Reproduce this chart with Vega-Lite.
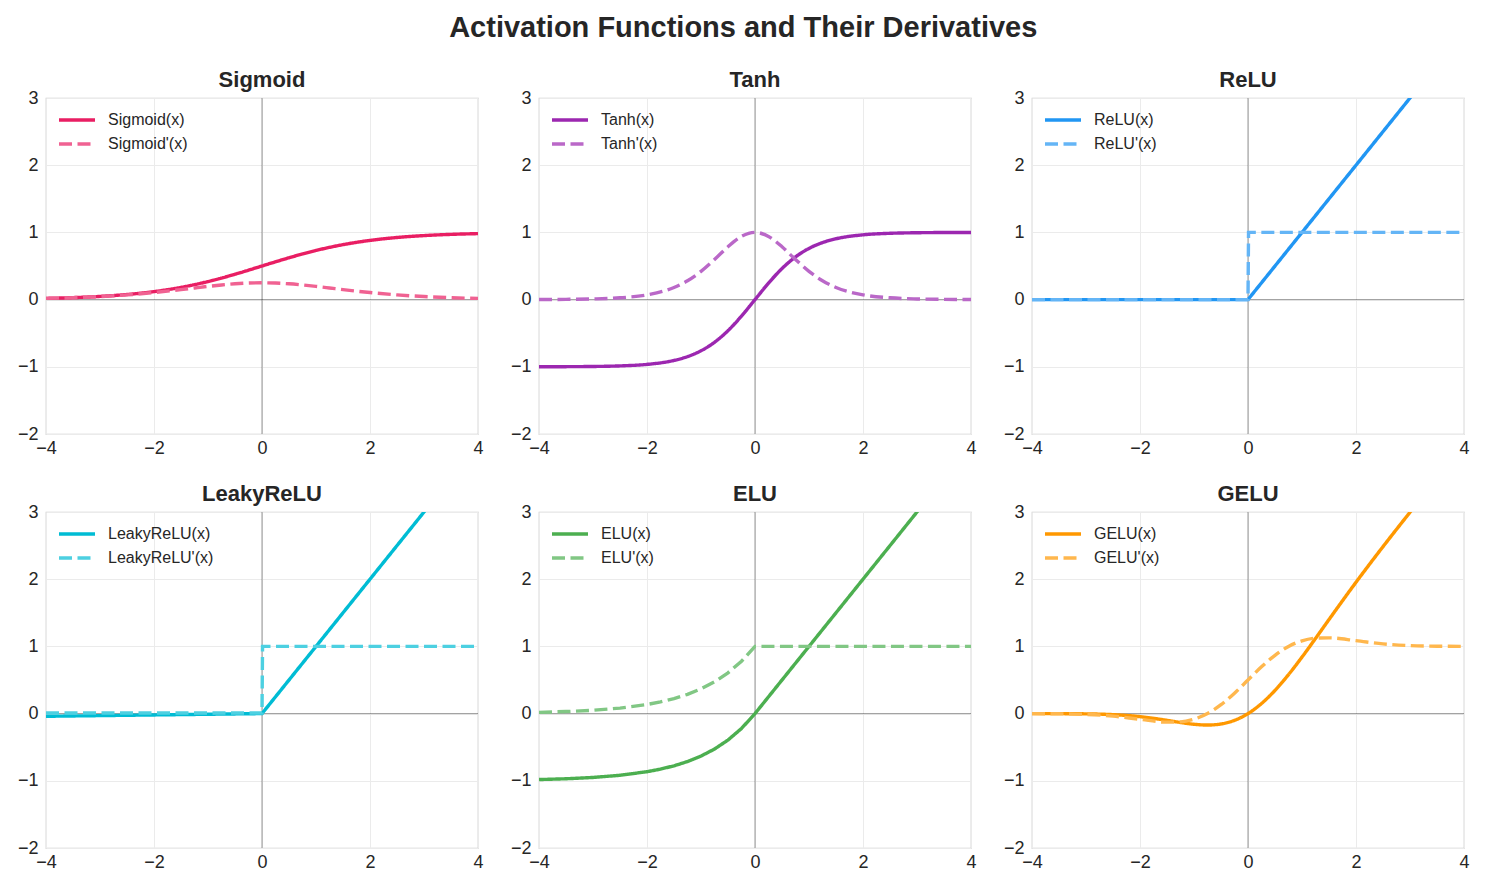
{
  "$schema": "https://vega.github.io/schema/vega-lite/v6.json",
  "padding": {"left": 16, "top": 14, "right": 5, "bottom": 5},
  "title": {"text": "Activation Functions and Their Derivatives", "fontSize": 29, "fontWeight": "bold", "anchor": "middle", "color": "#262626", "offset": 25},
  "datasets": {
    "sigmoid": [
      {"x": -4, "y": 0.018, "s": "Sigmoid(x)"}, {"x": -3.5, "y": 0.0293, "s": "Sigmoid(x)"}, {"x": -3, "y": 0.0474, "s": "Sigmoid(x)"}, {"x": -2.5, "y": 0.0759, "s": "Sigmoid(x)"}, {"x": -2, "y": 0.1192, "s": "Sigmoid(x)"}, {"x": -1.5, "y": 0.1824, "s": "Sigmoid(x)"}, {"x": -1.25, "y": 0.2227, "s": "Sigmoid(x)"}, {"x": -1, "y": 0.2689, "s": "Sigmoid(x)"}, {"x": -0.75, "y": 0.3208, "s": "Sigmoid(x)"}, {"x": -0.5, "y": 0.3775, "s": "Sigmoid(x)"}, {"x": -0.25, "y": 0.4378, "s": "Sigmoid(x)"}, {"x": 0, "y": 0.5, "s": "Sigmoid(x)"}, {"x": 0.25, "y": 0.5622, "s": "Sigmoid(x)"}, {"x": 0.5, "y": 0.6225, "s": "Sigmoid(x)"}, {"x": 0.75, "y": 0.6792, "s": "Sigmoid(x)"}, {"x": 1, "y": 0.7311, "s": "Sigmoid(x)"}, {"x": 1.25, "y": 0.7773, "s": "Sigmoid(x)"}, {"x": 1.5, "y": 0.8176, "s": "Sigmoid(x)"}, {"x": 2, "y": 0.8808, "s": "Sigmoid(x)"}, {"x": 2.5, "y": 0.9241, "s": "Sigmoid(x)"}, {"x": 3, "y": 0.9526, "s": "Sigmoid(x)"}, {"x": 3.5, "y": 0.9707, "s": "Sigmoid(x)"}, {"x": 4, "y": 0.982, "s": "Sigmoid(x)"},
      {"x": -4, "y": 0.0177, "s": "Sigmoid'(x)"}, {"x": -3.5, "y": 0.0285, "s": "Sigmoid'(x)"}, {"x": -3, "y": 0.0452, "s": "Sigmoid'(x)"}, {"x": -2.5, "y": 0.0701, "s": "Sigmoid'(x)"}, {"x": -2, "y": 0.105, "s": "Sigmoid'(x)"}, {"x": -1.5, "y": 0.1491, "s": "Sigmoid'(x)"}, {"x": -1.25, "y": 0.1731, "s": "Sigmoid'(x)"}, {"x": -1, "y": 0.1966, "s": "Sigmoid'(x)"}, {"x": -0.75, "y": 0.2179, "s": "Sigmoid'(x)"}, {"x": -0.5, "y": 0.235, "s": "Sigmoid'(x)"}, {"x": -0.25, "y": 0.2461, "s": "Sigmoid'(x)"}, {"x": 0, "y": 0.25, "s": "Sigmoid'(x)"}, {"x": 0.25, "y": 0.2461, "s": "Sigmoid'(x)"}, {"x": 0.5, "y": 0.235, "s": "Sigmoid'(x)"}, {"x": 0.75, "y": 0.2179, "s": "Sigmoid'(x)"}, {"x": 1, "y": 0.1966, "s": "Sigmoid'(x)"}, {"x": 1.25, "y": 0.1731, "s": "Sigmoid'(x)"}, {"x": 1.5, "y": 0.1491, "s": "Sigmoid'(x)"}, {"x": 2, "y": 0.105, "s": "Sigmoid'(x)"}, {"x": 2.5, "y": 0.0701, "s": "Sigmoid'(x)"}, {"x": 3, "y": 0.0452, "s": "Sigmoid'(x)"}, {"x": 3.5, "y": 0.0285, "s": "Sigmoid'(x)"}, {"x": 4, "y": 0.0177, "s": "Sigmoid'(x)"}
    ],
    "tanh": [
      {"x": -4, "y": -0.9993, "s": "Tanh(x)"}, {"x": -3.5, "y": -0.9982, "s": "Tanh(x)"}, {"x": -3, "y": -0.9951, "s": "Tanh(x)"}, {"x": -2.5, "y": -0.9866, "s": "Tanh(x)"}, {"x": -2, "y": -0.964, "s": "Tanh(x)"}, {"x": -1.5, "y": -0.9051, "s": "Tanh(x)"}, {"x": -1.25, "y": -0.8483, "s": "Tanh(x)"}, {"x": -1, "y": -0.7616, "s": "Tanh(x)"}, {"x": -0.75, "y": -0.6351, "s": "Tanh(x)"}, {"x": -0.5, "y": -0.4621, "s": "Tanh(x)"}, {"x": -0.25, "y": -0.2449, "s": "Tanh(x)"}, {"x": 0, "y": 0, "s": "Tanh(x)"}, {"x": 0.25, "y": 0.2449, "s": "Tanh(x)"}, {"x": 0.5, "y": 0.4621, "s": "Tanh(x)"}, {"x": 0.75, "y": 0.6351, "s": "Tanh(x)"}, {"x": 1, "y": 0.7616, "s": "Tanh(x)"}, {"x": 1.25, "y": 0.8483, "s": "Tanh(x)"}, {"x": 1.5, "y": 0.9051, "s": "Tanh(x)"}, {"x": 2, "y": 0.964, "s": "Tanh(x)"}, {"x": 2.5, "y": 0.9866, "s": "Tanh(x)"}, {"x": 3, "y": 0.9951, "s": "Tanh(x)"}, {"x": 3.5, "y": 0.9982, "s": "Tanh(x)"}, {"x": 4, "y": 0.9993, "s": "Tanh(x)"},
      {"x": -4, "y": 0.0013, "s": "Tanh'(x)"}, {"x": -3.5, "y": 0.0036, "s": "Tanh'(x)"}, {"x": -3, "y": 0.0099, "s": "Tanh'(x)"}, {"x": -2.5, "y": 0.0266, "s": "Tanh'(x)"}, {"x": -2, "y": 0.0707, "s": "Tanh'(x)"}, {"x": -1.5, "y": 0.1807, "s": "Tanh'(x)"}, {"x": -1.25, "y": 0.2804, "s": "Tanh'(x)"}, {"x": -1, "y": 0.42, "s": "Tanh'(x)"}, {"x": -0.75, "y": 0.5966, "s": "Tanh'(x)"}, {"x": -0.5, "y": 0.7864, "s": "Tanh'(x)"}, {"x": -0.25, "y": 0.94, "s": "Tanh'(x)"}, {"x": 0, "y": 1, "s": "Tanh'(x)"}, {"x": 0.25, "y": 0.94, "s": "Tanh'(x)"}, {"x": 0.5, "y": 0.7864, "s": "Tanh'(x)"}, {"x": 0.75, "y": 0.5966, "s": "Tanh'(x)"}, {"x": 1, "y": 0.42, "s": "Tanh'(x)"}, {"x": 1.25, "y": 0.2804, "s": "Tanh'(x)"}, {"x": 1.5, "y": 0.1807, "s": "Tanh'(x)"}, {"x": 2, "y": 0.0707, "s": "Tanh'(x)"}, {"x": 2.5, "y": 0.0266, "s": "Tanh'(x)"}, {"x": 3, "y": 0.0099, "s": "Tanh'(x)"}, {"x": 3.5, "y": 0.0036, "s": "Tanh'(x)"}, {"x": 4, "y": 0.0013, "s": "Tanh'(x)"}
    ],
    "relu": [
      {"x": -4, "y": 0, "s": "ReLU(x)"}, {"x": 0, "y": 0, "s": "ReLU(x)"}, {"x": 4, "y": 4, "s": "ReLU(x)"},
      {"x": -4, "y": 0, "s": "ReLU'(x)"}, {"x": 0, "y": 0, "s": "ReLU'(x)"}, {"x": 0.01, "y": 1, "s": "ReLU'(x)"}, {"x": 4, "y": 1, "s": "ReLU'(x)"}
    ],
    "leaky": [
      {"x": -4, "y": -0.04, "s": "LeakyReLU(x)"}, {"x": 0, "y": 0, "s": "LeakyReLU(x)"}, {"x": 4, "y": 4, "s": "LeakyReLU(x)"},
      {"x": -4, "y": 0.01, "s": "LeakyReLU'(x)"}, {"x": 0, "y": 0.01, "s": "LeakyReLU'(x)"}, {"x": 0.01, "y": 1, "s": "LeakyReLU'(x)"}, {"x": 4, "y": 1, "s": "LeakyReLU'(x)"}
    ],
    "elu": [
      {"x": -4, "y": -0.9817, "s": "ELU(x)"}, {"x": -3.5, "y": -0.9698, "s": "ELU(x)"}, {"x": -3, "y": -0.9502, "s": "ELU(x)"}, {"x": -2.5, "y": -0.9179, "s": "ELU(x)"}, {"x": -2, "y": -0.8647, "s": "ELU(x)"}, {"x": -1.75, "y": -0.8262, "s": "ELU(x)"}, {"x": -1.5, "y": -0.7769, "s": "ELU(x)"}, {"x": -1.25, "y": -0.7135, "s": "ELU(x)"}, {"x": -1, "y": -0.6321, "s": "ELU(x)"}, {"x": -0.75, "y": -0.5276, "s": "ELU(x)"}, {"x": -0.5, "y": -0.3935, "s": "ELU(x)"}, {"x": -0.25, "y": -0.2212, "s": "ELU(x)"}, {"x": 0, "y": 0, "s": "ELU(x)"}, {"x": 4, "y": 4, "s": "ELU(x)"},
      {"x": -4, "y": 0.0183, "s": "ELU'(x)"}, {"x": -3.5, "y": 0.0302, "s": "ELU'(x)"}, {"x": -3, "y": 0.0498, "s": "ELU'(x)"}, {"x": -2.5, "y": 0.0821, "s": "ELU'(x)"}, {"x": -2, "y": 0.1353, "s": "ELU'(x)"}, {"x": -1.75, "y": 0.1738, "s": "ELU'(x)"}, {"x": -1.5, "y": 0.2231, "s": "ELU'(x)"}, {"x": -1.25, "y": 0.2865, "s": "ELU'(x)"}, {"x": -1, "y": 0.3679, "s": "ELU'(x)"}, {"x": -0.75, "y": 0.4724, "s": "ELU'(x)"}, {"x": -0.5, "y": 0.6065, "s": "ELU'(x)"}, {"x": -0.25, "y": 0.7788, "s": "ELU'(x)"}, {"x": 0, "y": 1, "s": "ELU'(x)"}, {"x": 4, "y": 1, "s": "ELU'(x)"}
    ],
    "gelu": [
      {"x": -4, "y": -0.0001, "s": "GELU(x)"}, {"x": -3.5, "y": -0.0008, "s": "GELU(x)"}, {"x": -3, "y": -0.004, "s": "GELU(x)"}, {"x": -2.5, "y": -0.0155, "s": "GELU(x)"}, {"x": -2, "y": -0.0455, "s": "GELU(x)"}, {"x": -1.5, "y": -0.1002, "s": "GELU(x)"}, {"x": -1.25, "y": -0.1321, "s": "GELU(x)"}, {"x": -1, "y": -0.1587, "s": "GELU(x)"}, {"x": -0.75, "y": -0.17, "s": "GELU(x)"}, {"x": -0.5, "y": -0.1543, "s": "GELU(x)"}, {"x": -0.25, "y": -0.1003, "s": "GELU(x)"}, {"x": 0, "y": 0, "s": "GELU(x)"}, {"x": 0.25, "y": 0.1497, "s": "GELU(x)"}, {"x": 0.5, "y": 0.3457, "s": "GELU(x)"}, {"x": 0.75, "y": 0.58, "s": "GELU(x)"}, {"x": 1, "y": 0.8413, "s": "GELU(x)"}, {"x": 1.25, "y": 1.1179, "s": "GELU(x)"}, {"x": 1.5, "y": 1.3998, "s": "GELU(x)"}, {"x": 2, "y": 1.9545, "s": "GELU(x)"}, {"x": 2.5, "y": 2.4845, "s": "GELU(x)"}, {"x": 3, "y": 2.996, "s": "GELU(x)"}, {"x": 3.5, "y": 3.4992, "s": "GELU(x)"}, {"x": 4, "y": 3.9999, "s": "GELU(x)"},
      {"x": -4, "y": -0.0005, "s": "GELU'(x)"}, {"x": -3.5, "y": -0.0028, "s": "GELU'(x)"}, {"x": -3, "y": -0.012, "s": "GELU'(x)"}, {"x": -2.5, "y": -0.0376, "s": "GELU'(x)"}, {"x": -2, "y": -0.0852, "s": "GELU'(x)"}, {"x": -1.5, "y": -0.1275, "s": "GELU'(x)"}, {"x": -1.25, "y": -0.1227, "s": "GELU'(x)"}, {"x": -1, "y": -0.0833, "s": "GELU'(x)"}, {"x": -0.75, "y": 0.0008, "s": "GELU'(x)"}, {"x": -0.5, "y": 0.1325, "s": "GELU'(x)"}, {"x": -0.25, "y": 0.3046, "s": "GELU'(x)"}, {"x": 0, "y": 0.5, "s": "GELU'(x)"}, {"x": 0.25, "y": 0.6954, "s": "GELU'(x)"}, {"x": 0.5, "y": 0.8675, "s": "GELU'(x)"}, {"x": 0.75, "y": 0.9992, "s": "GELU'(x)"}, {"x": 1, "y": 1.0833, "s": "GELU'(x)"}, {"x": 1.25, "y": 1.1227, "s": "GELU'(x)"}, {"x": 1.5, "y": 1.1275, "s": "GELU'(x)"}, {"x": 2, "y": 1.0852, "s": "GELU'(x)"}, {"x": 2.5, "y": 1.0376, "s": "GELU'(x)"}, {"x": 3, "y": 1.012, "s": "GELU'(x)"}, {"x": 3.5, "y": 1.0028, "s": "GELU'(x)"}, {"x": 4, "y": 1.0005, "s": "GELU'(x)"}
    ]
  },
  "concat": [
    {
      "title": "Sigmoid", "width": 432, "height": 336,
      "layer": [
        {"data": {"values": [{}]}, "mark": {"type": "rule", "color": "#000000", "opacity": 0.5, "strokeWidth": 0.8}, "encoding": {"x": {"datum": 0, "type": "quantitative", "scale": {"domain": [-4, 4], "nice": false}, "axis": {"values": [-4, -2, 0, 2, 4], "title": null}}}},
        {"data": {"values": [{}]}, "mark": {"type": "rule", "color": "#000000", "opacity": 0.5, "strokeWidth": 0.8}, "encoding": {"y": {"datum": 0, "type": "quantitative", "scale": {"domain": [-2, 3], "nice": false}, "axis": {"values": [-2, -1, 0, 1, 2, 3], "title": null}}}},
        {"data": {"name": "sigmoid"}, "mark": {"type": "line", "strokeWidth": 3.4, "clip": true, "interpolate": "monotone"},
         "encoding": {"x": {"field": "x", "type": "quantitative"}, "y": {"field": "y", "type": "quantitative"},
           "color": {"field": "s", "type": "nominal", "title": null, "scale": {"domain": ["Sigmoid(x)", "Sigmoid'(x)"], "range": ["#E91E63", "#F06292"]}},
           "strokeDash": {"field": "s", "type": "nominal", "title": null, "scale": {"domain": ["Sigmoid(x)", "Sigmoid'(x)"], "range": [[1, 0], [13, 5.5]]}}}}
      ]
    },
    {
      "title": "Tanh", "width": 432, "height": 336,
      "layer": [
        {"data": {"values": [{}]}, "mark": {"type": "rule", "color": "#000000", "opacity": 0.5, "strokeWidth": 0.8}, "encoding": {"x": {"datum": 0, "type": "quantitative", "scale": {"domain": [-4, 4], "nice": false}, "axis": {"values": [-4, -2, 0, 2, 4], "title": null}}}},
        {"data": {"values": [{}]}, "mark": {"type": "rule", "color": "#000000", "opacity": 0.5, "strokeWidth": 0.8}, "encoding": {"y": {"datum": 0, "type": "quantitative", "scale": {"domain": [-2, 3], "nice": false}, "axis": {"values": [-2, -1, 0, 1, 2, 3], "title": null}}}},
        {"data": {"name": "tanh"}, "mark": {"type": "line", "strokeWidth": 3.4, "clip": true, "interpolate": "monotone"},
         "encoding": {"x": {"field": "x", "type": "quantitative"}, "y": {"field": "y", "type": "quantitative"},
           "color": {"field": "s", "type": "nominal", "title": null, "scale": {"domain": ["Tanh(x)", "Tanh'(x)"], "range": ["#9C27B0", "#BA68C8"]}},
           "strokeDash": {"field": "s", "type": "nominal", "title": null, "scale": {"domain": ["Tanh(x)", "Tanh'(x)"], "range": [[1, 0], [13, 5.5]]}}}}
      ]
    },
    {
      "title": "ReLU", "width": 432, "height": 336,
      "layer": [
        {"data": {"values": [{}]}, "mark": {"type": "rule", "color": "#000000", "opacity": 0.5, "strokeWidth": 0.8}, "encoding": {"x": {"datum": 0, "type": "quantitative", "scale": {"domain": [-4, 4], "nice": false}, "axis": {"values": [-4, -2, 0, 2, 4], "title": null}}}},
        {"data": {"values": [{}]}, "mark": {"type": "rule", "color": "#000000", "opacity": 0.5, "strokeWidth": 0.8}, "encoding": {"y": {"datum": 0, "type": "quantitative", "scale": {"domain": [-2, 3], "nice": false}, "axis": {"values": [-2, -1, 0, 1, 2, 3], "title": null}}}},
        {"data": {"name": "relu"}, "mark": {"type": "line", "strokeWidth": 3.4, "clip": true, "interpolate": "linear"},
         "encoding": {"x": {"field": "x", "type": "quantitative"}, "y": {"field": "y", "type": "quantitative"},
           "color": {"field": "s", "type": "nominal", "title": null, "scale": {"domain": ["ReLU(x)", "ReLU'(x)"], "range": ["#2196F3", "#64B5F6"]}},
           "strokeDash": {"field": "s", "type": "nominal", "title": null, "scale": {"domain": ["ReLU(x)", "ReLU'(x)"], "range": [[1, 0], [13, 5.5]]}}}}
      ]
    },
    {
      "title": "LeakyReLU", "width": 432, "height": 336,
      "layer": [
        {"data": {"values": [{}]}, "mark": {"type": "rule", "color": "#000000", "opacity": 0.5, "strokeWidth": 0.8}, "encoding": {"x": {"datum": 0, "type": "quantitative", "scale": {"domain": [-4, 4], "nice": false}, "axis": {"values": [-4, -2, 0, 2, 4], "title": null}}}},
        {"data": {"values": [{}]}, "mark": {"type": "rule", "color": "#000000", "opacity": 0.5, "strokeWidth": 0.8}, "encoding": {"y": {"datum": 0, "type": "quantitative", "scale": {"domain": [-2, 3], "nice": false}, "axis": {"values": [-2, -1, 0, 1, 2, 3], "title": null}}}},
        {"data": {"name": "leaky"}, "mark": {"type": "line", "strokeWidth": 3.4, "clip": true, "interpolate": "linear"},
         "encoding": {"x": {"field": "x", "type": "quantitative"}, "y": {"field": "y", "type": "quantitative"},
           "color": {"field": "s", "type": "nominal", "title": null, "scale": {"domain": ["LeakyReLU(x)", "LeakyReLU'(x)"], "range": ["#00BCD4", "#4DD0E1"]}},
           "strokeDash": {"field": "s", "type": "nominal", "title": null, "scale": {"domain": ["LeakyReLU(x)", "LeakyReLU'(x)"], "range": [[1, 0], [13, 5.5]]}}}}
      ]
    },
    {
      "title": "ELU", "width": 432, "height": 336,
      "layer": [
        {"data": {"values": [{}]}, "mark": {"type": "rule", "color": "#000000", "opacity": 0.5, "strokeWidth": 0.8}, "encoding": {"x": {"datum": 0, "type": "quantitative", "scale": {"domain": [-4, 4], "nice": false}, "axis": {"values": [-4, -2, 0, 2, 4], "title": null}}}},
        {"data": {"values": [{}]}, "mark": {"type": "rule", "color": "#000000", "opacity": 0.5, "strokeWidth": 0.8}, "encoding": {"y": {"datum": 0, "type": "quantitative", "scale": {"domain": [-2, 3], "nice": false}, "axis": {"values": [-2, -1, 0, 1, 2, 3], "title": null}}}},
        {"data": {"name": "elu"}, "mark": {"type": "line", "strokeWidth": 3.4, "clip": true, "interpolate": "linear"},
         "encoding": {"x": {"field": "x", "type": "quantitative"}, "y": {"field": "y", "type": "quantitative"},
           "color": {"field": "s", "type": "nominal", "title": null, "scale": {"domain": ["ELU(x)", "ELU'(x)"], "range": ["#4CAF50", "#81C784"]}},
           "strokeDash": {"field": "s", "type": "nominal", "title": null, "scale": {"domain": ["ELU(x)", "ELU'(x)"], "range": [[1, 0], [13, 5.5]]}}}}
      ]
    },
    {
      "title": "GELU", "width": 432, "height": 336,
      "layer": [
        {"data": {"values": [{}]}, "mark": {"type": "rule", "color": "#000000", "opacity": 0.5, "strokeWidth": 0.8}, "encoding": {"x": {"datum": 0, "type": "quantitative", "scale": {"domain": [-4, 4], "nice": false}, "axis": {"values": [-4, -2, 0, 2, 4], "title": null}}}},
        {"data": {"values": [{}]}, "mark": {"type": "rule", "color": "#000000", "opacity": 0.5, "strokeWidth": 0.8}, "encoding": {"y": {"datum": 0, "type": "quantitative", "scale": {"domain": [-2, 3], "nice": false}, "axis": {"values": [-2, -1, 0, 1, 2, 3], "title": null}}}},
        {"data": {"name": "gelu"}, "mark": {"type": "line", "strokeWidth": 3.4, "clip": true, "interpolate": "monotone"},
         "encoding": {"x": {"field": "x", "type": "quantitative"}, "y": {"field": "y", "type": "quantitative"},
           "color": {"field": "s", "type": "nominal", "title": null, "scale": {"domain": ["GELU(x)", "GELU'(x)"], "range": ["#FF9800", "#FFB74D"]}},
           "strokeDash": {"field": "s", "type": "nominal", "title": null, "scale": {"domain": ["GELU(x)", "GELU'(x)"], "range": [[1, 0], [13, 5.5]]}}}}
      ]
    }
  ],
  "columns": 3,
  "spacing": {"row": 24, "column": 25},
  "resolve": {"scale": {"color": "independent", "strokeDash": "independent"}, "legend": {"color": "independent", "strokeDash": "independent"}},
  "config": {
    "font": "Liberation Sans",
    "view": {"stroke": "#cccccc", "strokeWidth": 1.25},
    "title": {"fontSize": 22, "fontWeight": "bold", "color": "#262626", "offset": -3},
    "axis": {"grid": true, "gridColor": "#ebebeb", "gridWidth": 1, "domain": false, "ticks": false, "labelFontSize": 18, "labelColor": "#262626", "labelPadding": 5, "labelFlush": false, "format": "d"},
    "axisY": {"labelPadding": 8},
    "legend": {"orient": "top-left", "offset": 11, "labelFontSize": 16, "labelColor": "#262626", "symbolType": "M-1,0H3", "symbolSize": 324, "symbolStrokeWidth": 3.4, "rowPadding": 5, "labelOffset": 29}
  }
}
